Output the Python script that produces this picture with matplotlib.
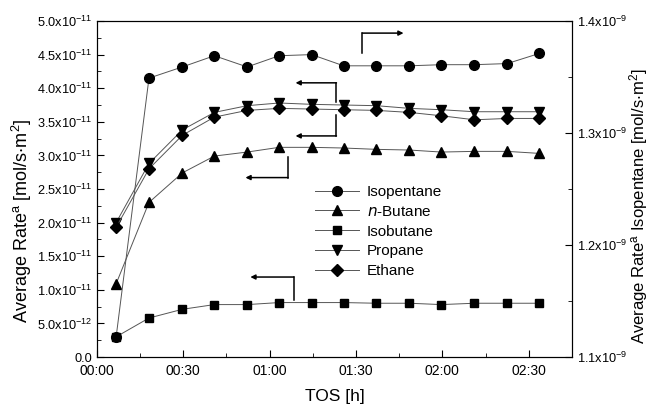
import numpy as np
import matplotlib
matplotlib.use("Agg")
from matplotlib import pyplot as plt
from matplotlib.ticker import MultipleLocator, FuncFormatter

plt.rcParams['font.family'] = ['Liberation Sans', 'DejaVu Sans']
plt.rcParams['mathtext.default'] = 'regular'

# time on stream [min]
tos = [6.7, 18.1, 29.7, 40.8, 52.2, 63.3, 74.6, 85.7, 97.1, 108.5, 119.6, 131.1, 142.5, 153.6]

# rates, left axis [1e-11 mol/s m2]
butane = [1.09, 2.30, 2.74, 2.99, 3.05, 3.12, 3.12, 3.11, 3.09, 3.08, 3.05, 3.06, 3.06, 3.03]
isobutane = [0.30, 0.58, 0.71, 0.78, 0.78, 0.81, 0.81, 0.81, 0.80, 0.80, 0.78, 0.80, 0.80, 0.80]
propane = [2.00, 2.88, 3.38, 3.64, 3.74, 3.78, 3.76, 3.75, 3.74, 3.70, 3.68, 3.65, 3.65, 3.65]
ethane = [1.93, 2.80, 3.30, 3.57, 3.67, 3.70, 3.69, 3.68, 3.67, 3.64, 3.59, 3.53, 3.55, 3.55]

# isopentane, right axis [1e-9 mol/s m2]
isopentane = [1.118, 1.349, 1.359, 1.369, 1.359, 1.369, 1.370, 1.360, 1.360, 1.360, 1.361, 1.361, 1.362, 1.371]

# elbow arrows pointing to the axis each series belongs to: (x0, y_start, y_corner, x_end)
arrows = [
    (92.2, 4.52, 4.82, 106.5),
    (83.2, 3.80, 4.08, 69.0),
    (83.2, 3.60, 3.29, 69.0),
    (66.4, 2.98, 2.67, 51.6),
    (68.4, 0.85, 1.19, 53.3),
]

def sci_label(v, pos):
    if abs(v) < 1e-20:
        return '0.0'
    e = int(np.floor(np.log10(abs(v)) + 1e-9))
    m = v / 10**e
    return '%.1fx10$^{%d}$' % (m, e)

def hhmm(v, pos):
    return '%02d:%02d' % (int(v // 60), int(round(v % 60)))

fig = plt.figure(figsize=(6.5, 4.08), dpi=100)
# plot box: x 97..572 px, y 21..357 px
ax = fig.add_axes([0.149, 0.125, 0.731, 0.8235])
ax2 = ax.twinx()

lc = '#555555'
kw = dict(color=lc, lw=0.7, mfc='black', mec='black', ms=7)
s = 1e-11
h1, = ax2.plot(tos, np.array(isopentane) * 1e-9, marker='o', label='Isopentane', **kw)
h2, = ax.plot(tos, np.array(butane) * s, marker='^', label='$\\it{n}$-Butane', **kw)
h3, = ax.plot(tos, np.array(isobutane) * s, marker='s', label='Isobutane', **dict(kw, ms=6.3))
h4, = ax.plot(tos, np.array(propane) * s, marker='v', label='Propane', **kw)
h5, = ax.plot(tos, np.array(ethane) * s, marker='D', label='Ethane', **dict(kw, ms=5.8))

for x0, y0, y1, x1 in arrows:
    ax.plot([x0, x0], [y0 * s, y1 * s], color='black', lw=1.1)
    ax.annotate('', xy=(x1, y1 * s), xytext=(x0, y1 * s),
                arrowprops=dict(arrowstyle='-|>', color='black', lw=1.1,
                                mutation_scale=7, shrinkA=0, shrinkB=0))

ax.set_xlim(0, 165)
ax.set_ylim(0, 5e-11)
ax2.set_ylim(1.1e-9, 1.4e-9)

ax.xaxis.set_major_locator(MultipleLocator(30))
ax.xaxis.set_minor_locator(MultipleLocator(15))
ax.xaxis.set_major_formatter(FuncFormatter(hhmm))
ax.yaxis.set_major_locator(MultipleLocator(5e-12))
ax.yaxis.set_minor_locator(MultipleLocator(2.5e-12))
ax.yaxis.set_major_formatter(FuncFormatter(sci_label))
ax2.yaxis.set_major_locator(MultipleLocator(1e-10))
ax2.yaxis.set_minor_locator(MultipleLocator(5e-11))
ax2.yaxis.set_major_formatter(FuncFormatter(sci_label))

for a in (ax, ax2):
    a.tick_params(which='both', direction='in', labelsize=9.2)
    a.tick_params(which='major', length=5)
    a.tick_params(which='minor', length=3)
    a.xaxis.get_offset_text().set_visible(False)
    a.yaxis.get_offset_text().set_visible(False)
ax.tick_params(axis='x', labelsize=10, pad=5)

ax.set_xlabel('TOS [h]', fontsize=12.5)
ax.xaxis.set_label_coords(0.5, -0.095)
ax.set_ylabel('Average Rate$^a$ [mol/s$\\cdot$m$^2$]', fontsize=13)
ax.yaxis.set_label_coords(-0.133, 0.405)
ax2.set_ylabel('Average Rate$^a$ Isopentane [mol/s$\\cdot$m$^2$]', fontsize=12)
ax2.yaxis.set_label_coords(1.117, 0.45)

ax2.legend(handles=[h1, h2, h3, h4, h5], loc='upper left',
           bbox_to_anchor=(0.43, 0.553), frameon=False, fontsize=11,
           handlelength=2.9, handletextpad=0.5, labelspacing=0.38)

fig.savefig('out.png', dpi=100)
